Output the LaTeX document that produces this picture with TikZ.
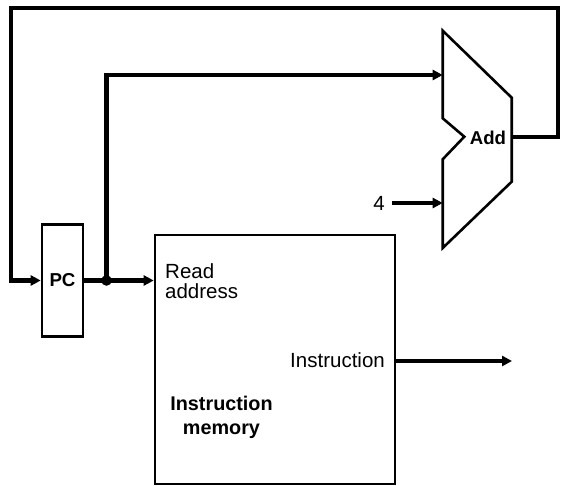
\documentclass[tikz,border=0pt]{standalone}
\usepackage{fontspec}
\setmainfont{Liberation Sans}
\usetikzlibrary{arrows.meta}
\tikzset{
  wire/.style={line width=4.2pt, -{Triangle[length=10pt,width=10pt]}},
  unit/.style={draw, line width=2.6pt, inner sep=0pt},
  lbl/.style={inner sep=0pt, font=\fontsize{20.5}{20}\selectfont},
  blbl/.style={inner sep=0pt, font=\fontsize{19.8}{24}\selectfont\bfseries},
}
\begin{document}
\begin{tikzpicture}[x=1pt,y=-1pt]
\useasboundingbox (0,0) rectangle (561,486);
% PC register
\node[unit, minimum width=41pt, minimum height=112pt, font=\fontsize{18.7}{20}\selectfont\bfseries] (pc) at (62.5,280.5) {PC};
% Instruction memory
\node[unit, minimum width=240pt, minimum height=249pt] (mem) at (275,359.5) {};
\node[lbl, anchor=north west, align=left] (ra) at (165,263) {Read\\address};
\node[lbl, anchor=base east] (instr) at (385,367) {Instruction};
\node[blbl, anchor=north, align=center] (imlab) at (221.5,396) {Instruction\\memory};
% Adder
\coordinate (a1) at (442.7,30.7);
\coordinate (a2) at (511.7,97.7);
\coordinate (a3) at (511.7,181.7);
\coordinate (a4) at (442.7,248);
\coordinate (a5) at (442.7,159.3);
\coordinate (a6) at (464.3,136.7);
\coordinate (a7) at (442.7,118.3);
\draw[line width=2.6pt, line join=miter] (a1) -- (a2) -- (a3) -- (a4) -- (a5) -- (a6) -- (a7) -- cycle;
\node[inner sep=0pt, font=\fontsize{18.6}{20}\selectfont\bfseries] (addlab) at (488,138) {Add};
\coordinate (addout) at (511.7,137);
\coordinate (addinA) at (442.7,75);
\coordinate (addinB) at (442.7,203);
% constant 4
\node[lbl, anchor=center] (four) at (379,203) {4};
% junction
\coordinate (j) at (106.5,280.5);
% wires
\draw[wire, line join=miter] (addout) -- (558,137) -- (558,8.3) -- (11,8.3) -- (11,280.5) -- (pc.west);
\draw[wire] (pc.east) -- (mem.west |- pc.east);
\draw[wire, line join=miter] (j) -- (106.5,75) -- (addinA);
\draw[wire] (four.east) ++(7pt,0) -- (addinB);
\coordinate (iout) at (512,361);
\draw[wire] (mem.east |- iout) -- (iout);
\fill (j) circle (5.3pt);
\end{tikzpicture}
\end{document}
